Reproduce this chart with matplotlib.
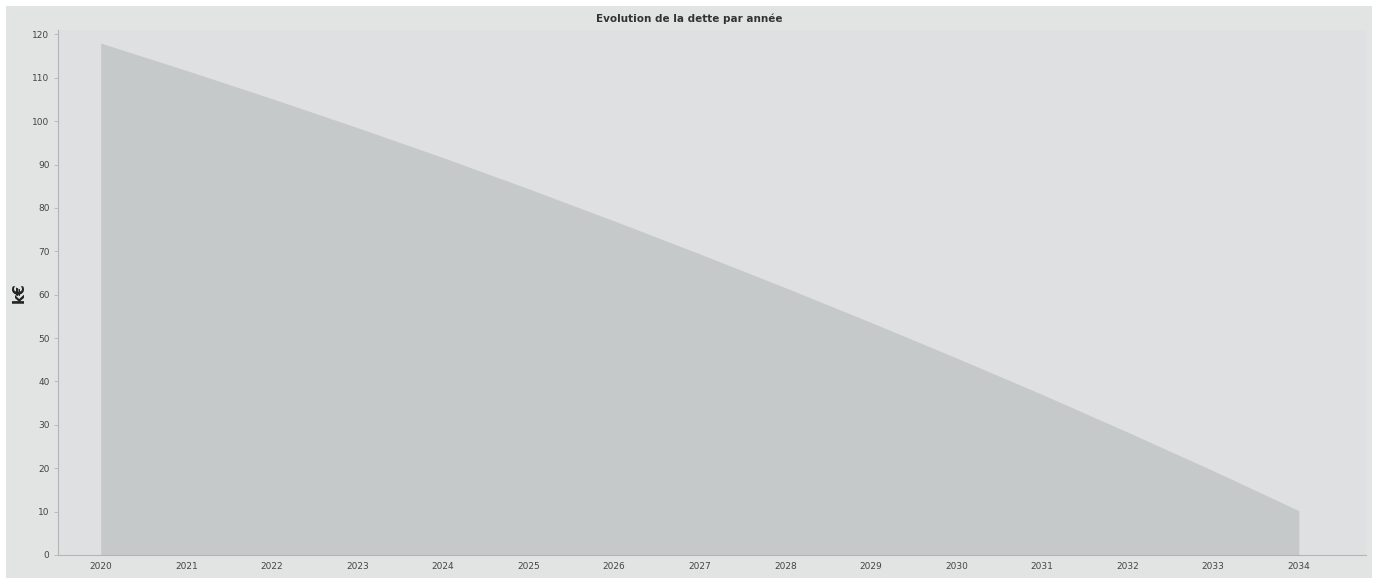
import matplotlib
matplotlib.use("Agg")
import matplotlib.pyplot as plt
from matplotlib.patches import Rectangle

# remaining debt per year (k€)
years = [2020, 2021, 2022, 2023, 2024, 2025, 2026, 2027,
         2028, 2029, 2030, 2031, 2032, 2033, 2034]
debt = [118.0, 111.7, 105.2, 98.5, 91.6, 84.4, 77.0, 69.4,
        61.6, 53.6, 45.4, 37.0, 28.3, 19.4, 10.2]
y_ticks = list(range(0, 121, 10))

W, H = 1378, 578
fig = plt.figure(figsize=(W / 100, H / 100), dpi=100, facecolor="#ffffff")

# scanned page: grey chart card with a white margin on top and right
fig.patches.append(Rectangle((6 / W, 0), (1372 - 6) / W, (H - 6) / H,
                             transform=fig.transFigure, facecolor="#e2e4e4",
                             edgecolor="none", zorder=-10))

ax = fig.add_axes([0.042, 0.040, 0.949, 0.908])
ax.set_zorder(5)
ax.set_facecolor("#dee0e1")

ax.fill_between(years, debt, 0, color="#c6c9ca", linewidth=0)

ax.set_xlim(2019.5, 2034.78)
ax.set_ylim(0, 121)
ax.set_xticks(years)
ax.set_xticklabels([str(y) for y in years])
ax.set_yticks(y_ticks)

for side in ["top", "right"]:
    ax.spines[side].set_visible(False)
for side in ["left", "bottom"]:
    ax.spines[side].set_color("#b3b6b7")
    ax.spines[side].set_linewidth(0.8)

ax.tick_params(axis="y", length=3, width=0.6, color="#b3b6b7",
               labelsize=6.5, labelcolor="#444444", pad=3)
ax.tick_params(axis="x", length=0, labelsize=6.5, labelcolor="#444444", pad=5)

ax.set_ylabel("k€", fontsize=11, fontweight="bold", color="#222222", labelpad=4)
fig.text(0.5, 1 - 19 / H, "Evolution de la dette par année", fontsize=7.5,
         fontweight="bold", color="#333333", ha="center", va="center", zorder=10)

fig.savefig("out.png", dpi=100, facecolor=fig.get_facecolor())
